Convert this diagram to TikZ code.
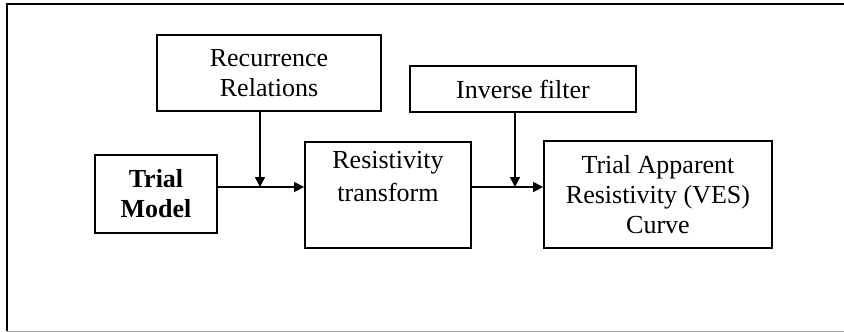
\documentclass[tikz,border=0pt]{standalone}
\usepackage{fontspec}
\setmainfont{Liberation Serif}
\usetikzlibrary{arrows.meta}

\begin{document}
\begin{tikzpicture}[x=1pt,y=-1pt,
  blockbox/.style={draw=black, line width=1.8pt, inner sep=0pt, align=center,
    font=\fontsize{26}{30}\selectfont},
  flow/.style={line width=1.5pt, -{Triangle[length=10pt,width=10pt]}}
]
  % page area and frame
  \useasboundingbox (0,0) rectangle (844,332);
  \draw[line width=1.5pt] (7,331) -- (7,4) -- (844,4);
  \draw[line width=1pt, black!35] (7,331) -- (844,331);

  % blocks
  \node[blockbox, minimum width=224pt, minimum height=76pt] (rec) at (269,73)
    {Recurrence\\Relations};
  \node[blockbox, minimum width=226pt, minimum height=46pt] (inv) at (523,89)
    {Inverse filter};
  \node[blockbox, minimum width=122pt, minimum height=78pt] (tm) at (156,194)
    {\bfseries Trial\\\bfseries Model};
  \node[blockbox, minimum width=166pt, minimum height=106pt] (rt) at (388,195) {};
  \node[anchor=north, align=center, inner sep=0pt,
    font=\fontsize{26}{33}\selectfont] (rtt) at ([yshift=-10pt]rt.north)
    {Resistivity\\transform};
  \node[blockbox, minimum width=228pt, minimum height=107pt] (ves) at (658,194.5)
    {Trial Apparent\\Resistivity (VES)\\Curve};

  % junctions on the flow line
  \coordinate (ja) at (260,187);
  \coordinate (jb) at (515,187);

  % connectors
  \draw[flow] (tm.east |- ja) -- (rt.west |- ja);
  \draw[flow] (rec.south -| ja) -- (ja);
  \draw[flow] (rt.east |- jb) -- (ves.west |- jb);
  \draw[flow] (inv.south -| jb) -- (jb);
\end{tikzpicture}
\end{document}
